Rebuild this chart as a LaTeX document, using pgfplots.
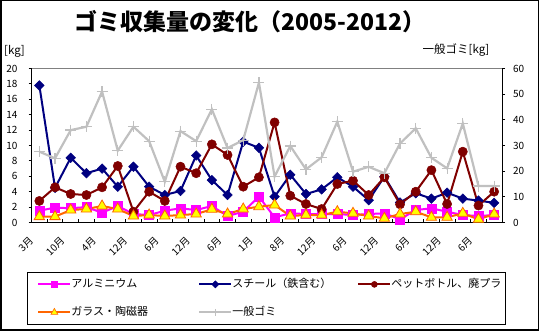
\documentclass[border=0pt]{standalone}
\usepackage{fontspec}
\setmainfont{Noto Sans CJK JP}
\usepackage{pgfplots}
\usepackage{pgfplotstable}
\pgfplotsset{compat=1.18}
\definecolor{alu}{HTML}{FF00FF}
\definecolor{steel}{HTML}{000080}
\definecolor{pet}{HTML}{800000}
\definecolor{glassl}{HTML}{FF6600}
\definecolor{glassf}{HTML}{FFFF00}
\definecolor{gen}{HTML}{C0C0C0}
\definecolor{border}{HTML}{808080}

\pgfplotstableread{
i alu steel pet glass gen
0 1.53 17.8 2.8 0.76 27.6
1 1.93 4.5 4.57 0.76 25.0
2 1.85 8.4 3.7 1.62 36.0
3 2.0 6.4 3.57 1.75 37.3
4 1.27 7.0 4.57 2.14 51.0
5 2.14 4.65 7.34 1.75 28.0
6 1.1 7.25 1.4 0.84 37.3
7 0.97 4.65 4.0 0.97 31.7
8 1.53 3.57 2.8 0.84 15.9
9 1.84 4.1 7.25 0.97 35.6
10 1.62 8.7 6.4 1.1 31.7
11 2.14 5.5 10.15 1.71 44.1
12 0.84 3.57 8.77 1.1 29.0
13 1.4 10.5 4.65 1.75 32.1
14 3.35 9.7 5.87 2.05 54.5
15 0.67 3.35 13.0 2.27 17.9
16 1.19 6.2 3.48 0.84 29.8
17 1.1 3.7 2.4 0.97 20.7
18 1.1 4.3 1.75 0.97 25.4
19 1.1 5.87 5.0 1.4 39.3
20 0.97 4.65 5.43 1.19 19.8
21 1.1 2.9 3.57 0.84 21.7
22 1.19 5.95 5.87 0.54 19.2
23 0.41 2.6 2.36 1.1 30.8
24 1.62 3.8 4.0 1.4 36.7
25 1.84 3.1 6.8 0.67 25.2
26 1.4 3.87 2.4 0.67 21.1
27 0.97 3.1 9.2 1.19 38.6
28 0.84 2.84 2.2 0.41 14.2
29 0.97 2.55 4.0 1.1 14.2
}\data

\pgfplotsset{
  common/.style={
    at={(31.5pt,108.5pt)}, anchor=south west,
    scale only axis, width=470.5pt, height=154pt,
    xmin=-0.5, xmax=29.5,
    tick align=inside, major tick length=3pt, minor tick length=3pt,
    every tick/.style={black, line width=0.8pt},
    axis line style={line width=0.8pt, black},
    /pgf/number format/assume math mode=true,
    yticklabel style={font=\fontsize{10}{10}\selectfont},
    clip=false,
  },
  legend image code/.code={\draw[mark repeat=2,mark phase=2,#1] plot coordinates {(0pt,0pt) (16pt,0pt) (32pt,0pt)};},
}

\begin{document}
\begin{tikzpicture}[x=1pt,y=1pt]
\useasboundingbox (0,0) rectangle (539,331);
\draw[line width=1.5pt] (0.75,0.75) rectangle (538.25,330.25);
\node at (250,309) {\fontsize{23}{23}\selectfont\bfseries ゴミ収集量の変化（2005-2012）};
\node[font=\fontsize{11.5}{11.5}\selectfont] at (14.5,280) {[kg]};
\node[font=\fontsize{11.5}{11.5}\selectfont] at (456,281) {一般ゴミ[kg]};

\begin{axis}[common,
  ymin=0, ymax=20, ytick={0,2,...,20},
  axis x line*=bottom, axis y line*=left,
  every major y tick/.append style={xshift=-3pt},
  every major x tick/.append style={draw=none},
  yticklabel style={xshift=-10.5pt},
  xtick={0,2,...,28},
  minor xtick={-0.5,0.5,...,29.5},
  xticklabels={3月,10月,4月,12月,6月,12月,6月,1月,8月,12月,6月,12月,6月,12月,6月},
  xticklabel style={xshift=-7.8pt, yshift=-16.5pt, rotate=45, anchor=east, inner sep=0pt, font=\fontsize{10}{10}\selectfont},
]
\draw[border, line width=1pt] (rel axis cs:0,1) -- (rel axis cs:1,1);
\addplot[alu, line width=2pt, mark=square*, mark size=4.5pt, mark options={solid, fill=alu, line width=0.5pt}] table[x=i, y=alu] {\data};
\addplot[steel, line width=2pt, mark=square*, mark size=3.4pt, mark options={solid, fill=steel, rotate=45, line width=0.5pt}] table[x=i, y=steel] {\data};
\addplot[pet, line width=2pt, mark=*, mark size=4.6pt, mark options={solid, fill=pet, line width=0.5pt}] table[x=i, y=pet] {\data};
\addplot[glassl, line width=2pt, mark=triangle*, mark size=6pt, mark options={solid, fill=glassf, draw=glassl, line width=0.8pt}] table[x=i, y=glass] {\data};
\end{axis}

\begin{axis}[common,
  ymin=0, ymax=60, ytick={0,10,...,60},
  axis y line*=right, axis x line=none,
  every major y tick/.append style={xshift=3pt},
  yticklabel style={xshift=7.5pt},
  legend columns=3,
  legend style={at={(axis description cs:-0.0096,-0.3214)}, anchor=north west,
    draw=black, line width=0.8pt, inner xsep=10pt, inner ysep=7pt,
    font=\fontsize{11}{11}\selectfont, row sep=18pt,
    nodes={inner sep=0pt, text height=8pt, text depth=2pt},
    /tikz/every even column/.append style={column sep=0pt}},
  legend cell align=left,
]
\addlegendimage{alu, line width=2pt, mark=square*, mark size=3pt, mark options={solid, fill=alu, line width=0.5pt}}
\addlegendentry{\makebox[127pt][l]{アルミニウム}}
\addlegendimage{steel, line width=2pt, mark=square*, mark size=2.5pt, mark options={solid, fill=steel, rotate=45, line width=0.5pt}}
\addlegendentry{\makebox[125pt][l]{スチール（鉄含む）}}
\addlegendimage{pet, line width=2pt, mark=*, mark size=3pt, mark options={solid, fill=pet, line width=0.5pt}}
\addlegendentry{\makebox[104pt][l]{ペットボトル、廃プラ}}
\addlegendimage{glassl, line width=2pt, mark=triangle*, mark size=4pt, mark options={solid, fill=glassf, draw=glassl, line width=0.6pt}}
\addlegendentry{\makebox[127pt][l]{ガラス・陶磁器}}
\addlegendimage{gen, line width=2pt, mark=+, mark size=3.5pt, mark options={solid, line width=1pt}}
\addlegendentry{\makebox[125pt][l]{一般ゴミ}}
\addplot[gen, line width=2.2pt, mark=+, mark size=5.5pt, mark options={solid, line width=1.2pt}, forget plot] table[x=i, y=gen] {\data};
\end{axis}
\end{tikzpicture}
\end{document}
